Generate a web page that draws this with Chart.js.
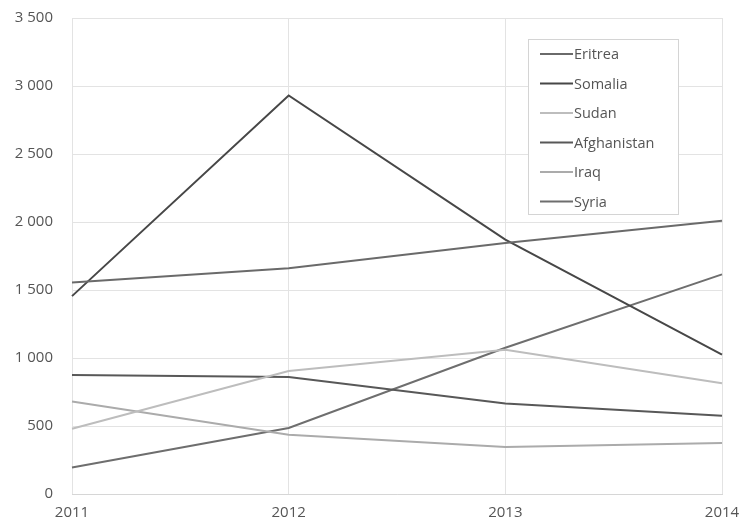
<!DOCTYPE html>
<html>
<head>
<meta charset="utf-8">
<script src="https://cdn.jsdelivr.net/npm/chart.js@4/dist/chart.umd.min.js"></script>
<style>
  html, body { margin: 0; padding: 0; background: #fff; }
  #wrap { width: 742px; height: 523px; }
</style>
</head>
<body>
<div id="wrap"><canvas id="c" width="742" height="523"></canvas></div>
<script>
// Years on the horizontal axis
const years = ['2011', '2012', '2013', '2014'];

// Asylum applications by country of origin
const eritrea     = [1555, 1660, 1845, 2010];
const somalia     = [1455, 2930, 1870, 1025];
const sudan       = [480, 905, 1060, 815];
const afghanistan = [875, 860, 665, 575];
const iraq        = [680, 435, 345, 375];
const syria       = [195, 485, 1075, 1615];

const seriesNames  = ['Eritrea', 'Somalia', 'Sudan', 'Afghanistan', 'Iraq', 'Syria'];
const seriesValues = [eritrea, somalia, sudan, afghanistan, iraq, syria];
const seriesColors = ['#6a6a6a', '#474747', '#bdbdbd', '#585858', '#ababab', '#6e6e6e'];

const fmt = v => String(v).replace(/\B(?=(\d{3})+(?!\d))/g, '\u00a0');

// Boxed legend drawn inside the plot area, upper right
const boxLegend = {
  id: 'boxLegend',
  afterDraw(chart) {
    const ctx = chart.ctx;
    const x0 = 528, y0 = 39, w = 150, h = 175;
    ctx.save();
    ctx.fillStyle = '#ffffff';
    ctx.fillRect(x0, y0, w, h);
    ctx.strokeStyle = '#d4d4d4';
    ctx.lineWidth = 1;
    ctx.strokeRect(x0 + 0.5, y0 + 0.5, w, h);
    ctx.font = '14.5px "Open Sans"';
    ctx.textBaseline = 'middle';
    chart.data.datasets.forEach((ds, i) => {
      const y = 54 + i * 29.5;
      ctx.strokeStyle = ds.borderColor;
      ctx.lineWidth = 2;
      ctx.beginPath();
      ctx.moveTo(540, y);
      ctx.lineTo(573, y);
      ctx.stroke();
      ctx.fillStyle = '#555';
      ctx.fillText(ds.label, 574, y + 1);
    });
    ctx.restore();
  }
};

new Chart(document.getElementById('c'), {
  type: 'line',
  data: {
    labels: years,
    datasets: seriesNames.map((name, i) => ({
      label: name,
      data: seriesValues[i],
      borderColor: seriesColors[i],
      backgroundColor: seriesColors[i],
      borderWidth: 2,
      pointRadius: 0,
      tension: 0,
      fill: false
    }))
  },
  options: {
    responsive: false,
    animation: false,
    layout: { padding: { top: 18, right: 20, left: 0, bottom: 0 } },
    plugins: {
      legend: { display: false },
      tooltip: { enabled: false }
    },
    scales: {
      x: {
        offset: false,
        grid: { color: '#e3e3e3', drawTicks: false },
        border: { color: '#d6d6d6' },
        ticks: { color: '#555', font: { family: 'Open Sans', size: 15 }, padding: 10, maxRotation: 0 },
        afterFit(s) { s.height = 29; s.paddingLeft = 0; s.paddingRight = 0; }
      },
      y: {
        min: 0, max: 3500,
        grid: { color: '#e3e3e3', drawTicks: false },
        border: { display: false },
        ticks: {
          stepSize: 500,
          color: '#555',
          font: { family: 'Open Sans', size: 15 },
          padding: 19,
          callback: v => fmt(v)
        },
        afterFit(s) { s.width = 72; s.paddingTop = 0; s.paddingBottom = 0; }
      }
    }
  },
  plugins: [boxLegend]
});
</script>
</body>
</html>
